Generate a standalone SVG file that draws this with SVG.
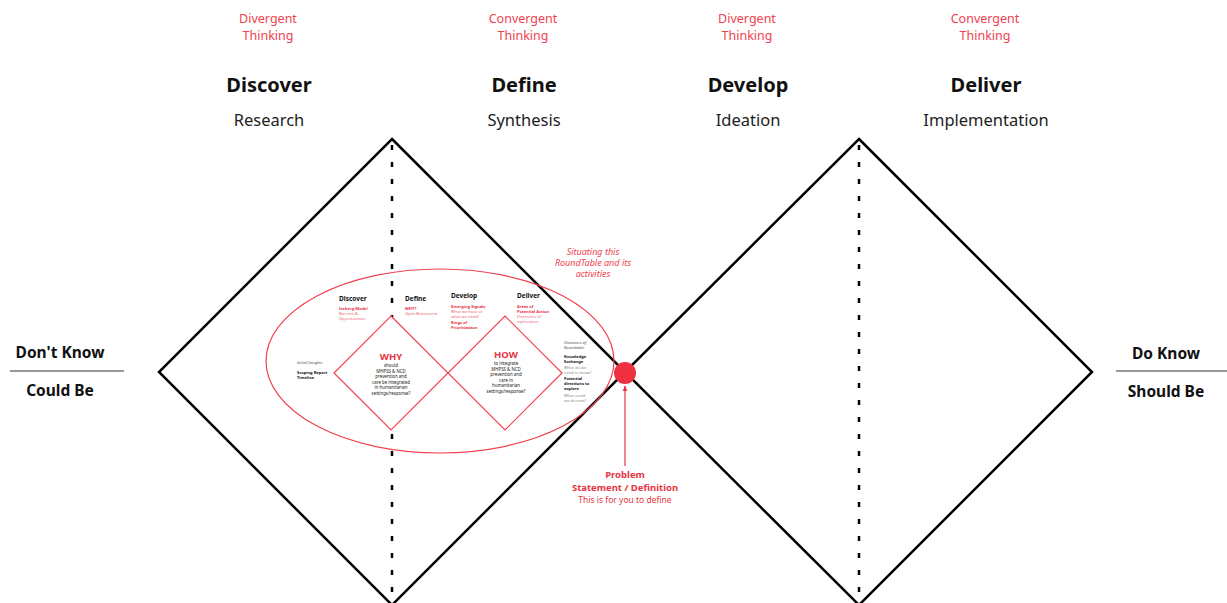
<svg xmlns="http://www.w3.org/2000/svg" width="1227" height="603" viewBox="0 0 1227 603">
<defs>
<style>
text{font-family:"Noto Sans","Liberation Sans",sans-serif;}
.hd{fill:#f0414f;font-size:12.5px;text-anchor:middle;}
.ph{fill:#111;font-size:20px;font-weight:bold;text-anchor:middle;}
.sub{fill:#222;font-size:16.5px;text-anchor:middle;}
.side{fill:#111;font-size:15.5px;font-weight:bold;text-anchor:middle;}
.big{fill:none;stroke:#000;stroke-width:2.5;}
.dash{stroke:#000;stroke-width:2.5;stroke-dasharray:5,12;}
.red{fill:#fff;stroke:#f0414f;stroke-width:1.2;}
.ell{fill:none;stroke:#f0414f;stroke-width:1.2;}
.sh{fill:#111;font-size:6.5px;font-weight:bold;}
.rb{fill:#e83343;font-size:4px;font-weight:bold;}
.rl{fill:#f0606c;font-size:4px;}
.bk{fill:#111;font-size:4px;font-weight:bold;}
.gy{fill:#888;font-size:4px;}
.it{fill:#555;font-size:4px;font-style:italic;}
.mid{fill:#222;font-size:4.4px;text-anchor:middle;}
.q{fill:#e83343;font-size:9.5px;font-weight:bold;text-anchor:middle;}
.sit{fill:#f0414f;font-size:9px;font-style:italic;text-anchor:middle;}
</style>
<marker id="ah" viewBox="0 0 10 10" refX="9" refY="5" markerWidth="5" markerHeight="5" orient="auto">
<path d="M0,1 L10,5 L0,9 z" fill="#e83343"/>
</marker>
</defs>
<rect width="1227" height="603" fill="#fff"/>

<g id="headers">
<text class="hd" x="268" y="23">Divergent</text>
<text class="hd" x="268" y="40">Thinking</text>
<text class="hd" x="523" y="23">Convergent</text>
<text class="hd" x="523" y="40">Thinking</text>
<text class="hd" x="747" y="23">Divergent</text>
<text class="hd" x="747" y="40">Thinking</text>
<text class="hd" x="985" y="23">Convergent</text>
<text class="hd" x="985" y="40">Thinking</text>
<text class="ph" x="269" y="92">Discover</text>
<text class="ph" x="524" y="92">Define</text>
<text class="ph" x="748" y="92">Develop</text>
<text class="ph" x="986" y="92">Deliver</text>
<text class="sub" x="269" y="126">Research</text>
<text class="sub" x="524" y="126">Synthesis</text>
<text class="sub" x="748" y="126">Ideation</text>
<text class="sub" x="986" y="126">Implementation</text>
</g>

<g id="side-left">
<text class="side" x="60" y="358">Don't Know</text>
<line x1="10" y1="371" x2="124" y2="371" stroke="#333" stroke-width="1"/>
<text class="side" x="60" y="396">Could Be</text>
</g>
<g id="side-right">
<text class="side" x="1166" y="359">Do Know</text>
<line x1="1116" y1="371" x2="1227" y2="371" stroke="#333" stroke-width="1"/>
<text class="side" x="1166" y="397">Should Be</text>
</g>

<g id="diamond-left">
<path class="big" d="M392,139 L625,372 L392,605 L159,372 Z"/>
</g>
<g id="diamond-right">
<path class="big" d="M859,139 L1092,372 L859,605 L625,372 Z"/>
</g>

<g id="connectors">
<line class="dash" x1="392" y1="145" x2="392" y2="603"/>
<line class="dash" x1="859" y1="145" x2="859" y2="603"/>
<line x1="625" y1="466" x2="625" y2="386" stroke="#e83343" stroke-width="1.2" marker-end="url(#ah)"/>
</g>

<g id="roundtable">
<ellipse class="ell" cx="440" cy="361" rx="174" ry="92"/>
<text class="sit" x="593" y="255">Situating this</text>
<text class="sit" x="593" y="266">RoundTable and its</text>
<text class="sit" x="593" y="277">activities</text>
</g>

<g id="mini-headers">
<text class="sh" x="339" y="301">Discover</text>
<text class="rb" x="339" y="310">Iceberg Model</text>
<text class="rl" x="339" y="315">Barriers &amp;</text>
<text class="rl" x="339" y="320">Opportunities</text>
<text class="sh" x="405" y="301">Define</text>
<text class="rb" x="405" y="310">WHY?</text>
<text class="rl" x="405" y="315">Open Brainstorm</text>
<text class="sh" x="451" y="298">Develop</text>
<text class="rb" x="451" y="308">Emerging Signals</text>
<text class="rl" x="451" y="313">What we have vs</text>
<text class="rl" x="451" y="318">what we need?</text>
<text class="rb" x="451" y="324">Rings of</text>
<text class="rb" x="451" y="329">Prioritization</text>
<text class="sh" x="517" y="298">Deliver</text>
<text class="rb" x="517" y="308">Areas of</text>
<text class="rb" x="517" y="313">Potential Action</text>
<text class="rl" x="517" y="318">Directions of</text>
<text class="rl" x="517" y="323">exploration</text>
</g>

<g id="initial-insights">
<text class="it" x="297" y="364">Initial Insights</text>
<text class="bk" x="297" y="374">Scoping Report</text>
<text class="bk" x="297" y="379">Timeline</text>
</g>

<g id="why">
<path class="red" d="M391,316 L448,373 L391,430 L334,373 Z"/>
<text class="q" x="391" y="360">WHY</text>
<text class="mid" x="391" y="367">should</text>
<text class="mid" x="391" y="372.5">MHPSS &amp; NCD</text>
<text class="mid" x="391" y="378">prevention and</text>
<text class="mid" x="391" y="383.5">care be integrated</text>
<text class="mid" x="391" y="389">in humanitarian</text>
<text class="mid" x="391" y="394.5">settings/response?</text>
</g>

<g id="how">
<path class="red" d="M505,316 L562,373 L505,430 L448,373 Z"/>
<text class="q" x="506" y="358">HOW</text>
<text class="mid" x="506" y="365">to integrate</text>
<text class="mid" x="506" y="370.5">MHPSS &amp; NCD</text>
<text class="mid" x="506" y="376">prevention and</text>
<text class="mid" x="506" y="381.5">care in</text>
<text class="mid" x="506" y="387">humanitarian</text>
<text class="mid" x="506" y="392.5">settings/response?</text>
</g>

<g id="outcomes">
<text class="it" x="564" y="344">Outcomes of</text>
<text class="it" x="564" y="349">Roundtable</text>
<text class="bk" x="564" y="358">Knowledge</text>
<text class="bk" x="564" y="363">Exchange</text>
<text class="gy" x="564" y="369">What do we</text>
<text class="gy" x="564" y="374">need to know?</text>
<text class="bk" x="564" y="380">Potential</text>
<text class="bk" x="564" y="385">directions to</text>
<text class="bk" x="564" y="390">explore</text>
<text class="gy" x="564" y="397">What could</text>
<text class="gy" x="564" y="402">we do next?</text>
</g>

<g id="problem">
<circle cx="625" cy="373" r="11" fill="#ee3040"/>
<text x="625" y="478" fill="#e83343" font-size="9.5px" font-weight="bold" text-anchor="middle">Problem</text>
<text x="625" y="491" fill="#e83343" font-size="9.5px" font-weight="bold" text-anchor="middle">Statement / Definition</text>
<text x="625" y="503" fill="#e83343" font-size="8.5px" text-anchor="middle">This is for you to define</text>
</g>
</svg>
